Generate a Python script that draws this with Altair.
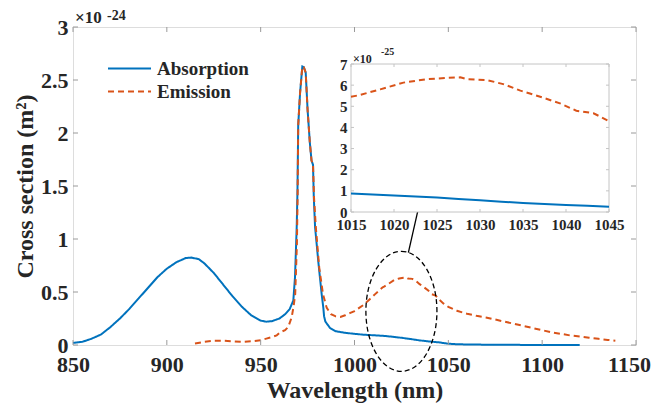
import altair as alt
import pandas as pd

# ---------------- data (cross sections in units of 1e-24 m^2) ----------------
abs_nm = [850, 855, 860, 865, 870, 875, 880, 885, 890, 895, 900, 905, 910, 913, 917,
          920, 925, 930, 935, 940, 945, 950, 953, 956, 960, 963, 965.5, 967.4, 968.3,
          969.2, 969.6, 970, 971, 972.2, 973, 974, 975, 976.2, 977.1, 977.9, 978.3,
          979, 980.7, 982.5, 983.4, 983.8, 984.5, 987, 990, 995, 1000, 1005, 1010,
          1015, 1017.5, 1020, 1022.5, 1025, 1027.5, 1030, 1032.5, 1035, 1037.5, 1040,
          1042.5, 1045, 1050, 1055, 1060, 1070, 1080, 1090, 1100, 1110, 1120]
abs_val = [0.02, 0.03, 0.06, 0.10, 0.17, 0.25, 0.34, 0.44, 0.54, 0.64, 0.72, 0.78, 0.82,
           0.825, 0.81, 0.77, 0.68, 0.57, 0.46, 0.36, 0.28, 0.23, 0.22, 0.225, 0.25, 0.29,
           0.34, 0.42, 0.64, 1.11, 1.44, 2.07, 2.38, 2.627, 2.62, 2.57, 2.22, 1.91, 1.74,
           1.70, 1.40, 1.11, 0.79, 0.48, 0.35, 0.27, 0.22, 0.16, 0.13, 0.115, 0.105,
           0.097, 0.092, 0.087, 0.083, 0.078, 0.073, 0.068, 0.062, 0.056, 0.049, 0.043,
           0.038, 0.033, 0.029, 0.025, 0.012, 0.007, 0.005, 0.003, 0.002, 0.001, 0.001,
           0.0, 0.0]

em_nm = [915, 920, 925, 930, 935, 940, 945, 950, 953, 956, 958.5, 960.3, 963, 964.7,
         966.5, 967.5, 968.4, 969.3, 969.7, 970, 971, 972.2, 973, 974, 975, 976.2,
         977.1, 977.9, 978.4, 979.4, 981.2, 983.2, 985.2, 987.5, 990, 992.5,
         995, 997.5, 1000, 1002.5, 1005, 1008, 1011, 1013.5,
         1015, 1016, 1018.4, 1021.1, 1023.8, 1026.1, 1027.7, 1028.5, 1030.8, 1032.7,
         1034.7, 1037, 1039.3, 1041.2, 1043.2, 1045,
         1047.5, 1050, 1055, 1060, 1065, 1070, 1075, 1080, 1085, 1090, 1095, 1100,
         1105, 1110, 1115, 1120, 1125, 1130, 1135, 1139]
em_val = [0.015, 0.03, 0.04, 0.04, 0.035, 0.03, 0.035, 0.045, 0.06, 0.075, 0.09, 0.12,
          0.14, 0.17, 0.26, 0.36, 0.48, 0.95, 1.42, 2.07, 2.38, 2.627, 2.62, 2.57, 2.22,
          1.91, 1.74, 1.70, 1.40, 1.11, 0.73, 0.48, 0.35, 0.29, 0.27, 0.265, 0.28, 0.30,
          0.32, 0.35, 0.38, 0.43, 0.48, 0.52,
          0.545, 0.553, 0.58, 0.612, 0.628, 0.634, 0.637, 0.628, 0.624, 0.605, 0.574,
          0.545, 0.514, 0.479, 0.467, 0.43,
          0.39, 0.36, 0.32, 0.295, 0.275, 0.26, 0.24, 0.22, 0.20, 0.18, 0.16, 0.14,
          0.12, 0.105, 0.09, 0.08, 0.068, 0.058, 0.048, 0.04]

series_names = ["Absorption", "Emission"]
series_colors = ["#0072BD", "#D95319"]

main_x_ticks = [850, 900, 950, 1000, 1050, 1100, 1150]
main_y_ticks = [0, 0.5, 1, 1.5, 2, 2.5, 3]
inset_x_ticks = [1015, 1020, 1025, 1030, 1035, 1040, 1045]
inset_y_ticks = [0, 1, 2, 3, 4, 5, 6, 7]

# annotation: ellipse around the zoomed region and connector line
ell_nm = [1025]
ell_val = [0.318]
conn_nm = [1028.7, 1034.2]
conn_val = [0.872, 1.30]

# ---------------- layout constants ----------------
W, H = 563, 318
IX0, IX1 = 278, 536     # inset pixel range (x)
IY0, IY1 = 185, 37      # inset pixel range (y, bottom -> top)
FONT = "Liberation Serif"
TXT = "#262626"
FRAME = "#9a9a9a"
IFRAME = "#c4c4c4"
TL = 5                  # main tick length
ITL = 3                 # inset tick length

df = pd.concat([
    pd.DataFrame({"series": "Absorption", "nm": abs_nm, "val": abs_val}),
    pd.DataFrame({"series": "Emission", "nm": em_nm, "val": em_val}),
], ignore_index=True)

xs = alt.Scale(domain=[850, 1150], nice=False, zero=False)
ys = alt.Scale(domain=[0, 3], nice=False)

leg = alt.Legend(title=None, orient="none", legendX=34, legendY=30,
                 symbolType="stroke", symbolSize=1849, symbolStrokeWidth=2,
                 labelFont=FONT, labelFontSize=19, labelFontWeight="bold",
                 labelColor=TXT, labelOffset=5, rowPadding=0, clipHeight=23, padding=0)

main_lines = alt.Chart(df).mark_line(strokeWidth=2).encode(
    x=alt.X("nm:Q", scale=xs, axis=alt.Axis(
        values=main_x_ticks, format="d", title="Wavelength (nm)", grid=False, domain=False,
        ticks=False, tickSize=0, labelFont=FONT, labelFontSize=22,
        labelFontWeight="bold", labelColor=TXT, labelPadding=26,
        labelBaseline="alphabetic", labelFlush=False,
        labelOffset={"condition": {"test": "datum.value == 1150", "value": -7}, "value": 0},
        titleFont=FONT, titleFontSize=24, titleFontWeight="bold", titleColor=TXT,
        titleX=W / 2, titleY=52, titleBaseline="alphabetic", titleAlign="center")),
    y=alt.Y("val:Q", scale=ys, axis=alt.Axis(
        values=main_y_ticks, format="~g", title="Cross section (m²)", grid=False,
        domain=False, ticks=False, tickSize=0, labelFont=FONT, labelFontSize=22,
        labelFontWeight="bold", labelColor=TXT, labelPadding=5, labelFlush=False,
        titleFont=FONT, titleFontSize=24, titleFontWeight="bold", titleColor=TXT,
        titleX=-48, titleY=159, titleBaseline="middle", titleAlign="center",
        titleAngle=270)),
    color=alt.Color("series:N", scale=alt.Scale(domain=series_names, range=series_colors), legend=leg),
    strokeDash=alt.StrokeDash("series:N", scale=alt.Scale(domain=series_names, range=[[1, 0], [6, 4]]), legend=leg),
)

tx = pd.DataFrame({"nm": main_x_ticks})
ty = pd.DataFrame({"val": main_y_ticks})
tick_b = alt.Chart(tx).mark_rule(color=FRAME).encode(x=alt.X("nm:Q", scale=xs), y=alt.value(H), y2=alt.value(H - TL))
tick_t = alt.Chart(tx).mark_rule(color=FRAME).encode(x=alt.X("nm:Q", scale=xs), y=alt.value(0), y2=alt.value(TL))
tick_l = alt.Chart(ty).mark_rule(color=FRAME).encode(y=alt.Y("val:Q", scale=ys), x=alt.value(0), x2=alt.value(TL))
tick_r = alt.Chart(ty).mark_rule(color=FRAME).encode(y=alt.Y("val:Q", scale=ys), x=alt.value(W), x2=alt.value(W - TL))

ellipse_path = ("M 0 -1 C 0.327 -1 0.592 -0.552 0.592 0 C 0.592 0.552 0.327 1 0 1 "
                "C -0.327 1 -0.592 0.552 -0.592 0 C -0.592 -0.552 -0.327 -1 0 -1 Z")
ellipse = alt.Chart(pd.DataFrame({"nm": ell_nm, "val": ell_val})).mark_point(
    shape=ellipse_path, size=14400, filled=False, stroke="black", strokeWidth=1.3,
    strokeDash=[5, 3], opacity=1).encode(x=alt.X("nm:Q", scale=xs), y=alt.Y("val:Q", scale=ys))

connector = alt.Chart(pd.DataFrame({"nm": [conn_nm[0]], "val": [conn_val[0]],
                                    "nm2": [conn_nm[1]], "val2": [conn_val[1]]})).mark_rule(
    color="black", strokeWidth=1.3).encode(
    x=alt.X("nm:Q", scale=xs), y=alt.Y("val:Q", scale=ys), x2="nm2:Q", y2="val2:Q")

exp_main = alt.Chart(pd.DataFrame({"t": ["×10"]})).mark_text(
    font=FONT, fontSize=17, fontWeight="bold", color=TXT, align="left", baseline="alphabetic").encode(
    text="t:N", x=alt.value(2), y=alt.value(-4))
exp_main2 = alt.Chart(pd.DataFrame({"t": ["-24"]})).mark_text(
    font=FONT, fontSize=14, fontWeight="bold", color=TXT, align="left", baseline="alphabetic").encode(
    text="t:N", x=alt.value(34), y=alt.value(-7))

main = alt.layer(main_lines, tick_b, tick_t, tick_l, tick_r, connector, ellipse, exp_main, exp_main2)

# ---------------- inset ----------------
ixs = alt.Scale(domain=[1015, 1045], range=[IX0, IX1], nice=False, zero=False)
iys = alt.Scale(domain=[0, 7], range=[IY0, IY1], nice=False)

inset_bg = alt.Chart(pd.DataFrame({"nm": [1015], "nm2": [1045], "v": [0], "v2": [7]})).mark_rect(
    fill="white", stroke=IFRAME, strokeWidth=1).encode(
    x=alt.X("nm:Q", scale=ixs, axis=alt.Axis(
        values=inset_x_ticks, format="d", title=None, orient="bottom", offset=-(H - IY0),
        grid=False, domain=False, ticks=False, tickSize=0, labelFont=FONT, labelFontSize=15,
        labelFontWeight="bold", labelColor=TXT, labelPadding=17, labelBaseline="alphabetic",
        labelFlush=False)),
    x2="nm2:Q",
    y=alt.Y("v:Q", scale=iys, axis=alt.Axis(
        values=inset_y_ticks, format="d", title=None, orient="left", offset=-IX0, grid=False,
        domain=False, ticks=False, tickSize=0, labelFont=FONT, labelFontSize=15,
        labelFontWeight="bold", labelColor=TXT, labelPadding=4, labelFlush=False)),
    y2="v2:Q",
)

inset_base = alt.Chart(df).transform_filter(
    (alt.datum.nm >= 1014) & (alt.datum.nm <= 1046)).transform_calculate(v="datum.val * 10")
inset_abs = inset_base.transform_filter(alt.datum.series == "Absorption").mark_line(
    color=series_colors[0], strokeWidth=2, clip=True).encode(
    x=alt.X("nm:Q", scale=ixs), y=alt.Y("v:Q", scale=iys))
inset_em = inset_base.transform_filter(alt.datum.series == "Emission").mark_line(
    color=series_colors[1], strokeWidth=2, strokeDash=[6, 4], clip=True).encode(
    x=alt.X("nm:Q", scale=ixs), y=alt.Y("v:Q", scale=iys))

itx = pd.DataFrame({"nm": inset_x_ticks})
ity = pd.DataFrame({"v": inset_y_ticks})
itick_b = alt.Chart(itx).mark_rule(color=IFRAME).encode(x=alt.X("nm:Q", scale=ixs), y=alt.value(IY0), y2=alt.value(IY0 - ITL))
itick_t = alt.Chart(itx).mark_rule(color=IFRAME).encode(x=alt.X("nm:Q", scale=ixs), y=alt.value(IY1), y2=alt.value(IY1 + ITL))
itick_l = alt.Chart(ity).mark_rule(color=IFRAME).encode(y=alt.Y("v:Q", scale=iys), x=alt.value(IX0), x2=alt.value(IX0 + ITL))
itick_r = alt.Chart(ity).mark_rule(color=IFRAME).encode(y=alt.Y("v:Q", scale=iys), x=alt.value(IX1), x2=alt.value(IX1 - ITL))

exp_in = alt.Chart(pd.DataFrame({"t": ["×10"]})).mark_text(
    font=FONT, fontSize=12, fontWeight="bold", color=TXT, align="left", baseline="alphabetic").encode(
    text="t:N", x=alt.value(IX0 + 2), y=alt.value(IY1 - 1))
exp_in2 = alt.Chart(pd.DataFrame({"t": ["-25"]})).mark_text(
    font=FONT, fontSize=10, fontWeight="bold", color=TXT, align="left", baseline="alphabetic").encode(
    text="t:N", x=alt.value(IX0 + 30), y=alt.value(IY1 - 9))

inset = alt.layer(inset_bg, itick_b, itick_t, itick_l, itick_r, inset_abs, inset_em, exp_in, exp_in2)

chart = alt.layer(main, inset).resolve_scale(x="independent", y="independent").properties(
    width=W, height=H, autosize="none",
    padding={"left": 65, "top": 19, "right": 17, "bottom": 58},
).configure_view(stroke=FRAME, strokeWidth=1).configure(background="white")

chart.save("out.html", embed_options={"renderer": "svg", "actions": False})
